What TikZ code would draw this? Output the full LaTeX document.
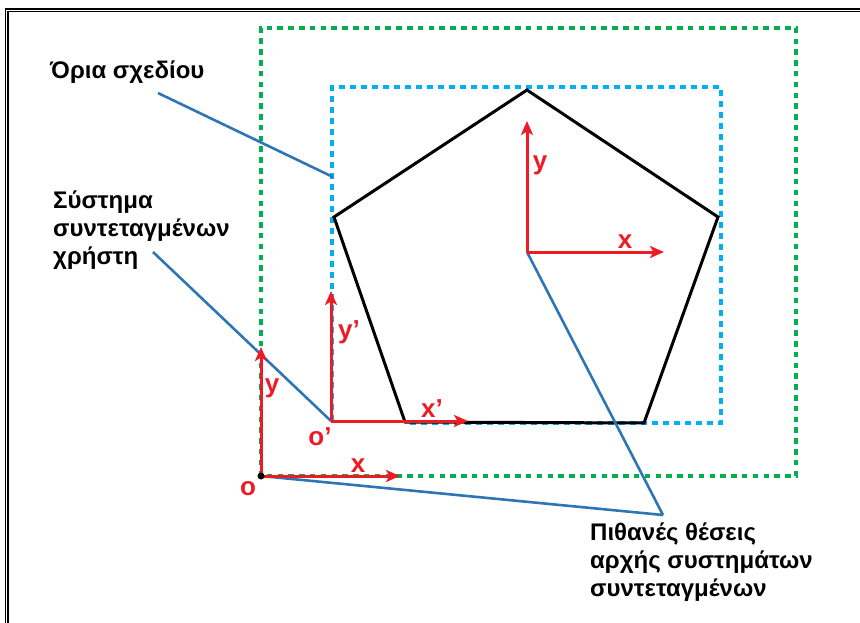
\documentclass[tikz,border=0pt]{standalone}
\usepackage{fontspec}
\setmainfont{Liberation Sans}[BoldFont={Liberation Sans Bold}]
\newfontfamily\capfont{Liberation Sans Bold}
\usetikzlibrary{arrows.meta}
\definecolor{axred}{RGB}{237,28,36}
\definecolor{ptrblue}{RGB}{46,117,182}
\definecolor{limgreen}{RGB}{0,176,80}
\definecolor{limcyan}{RGB}{0,176,240}
\tikzset{
  axis/.style={draw=axred, line width=3pt, -{Stealth[length=14pt,width=12pt,inset=3.5pt]}},
  axlabel/.style={text=axred, font=\capfont\fontsize{26}{28}\selectfont, inner sep=0pt, anchor=base},
  pointer/.style={draw=ptrblue, line width=2.6pt},
  caption/.style={font=\capfont\fontsize{24}{28}\selectfont, align=left, inner sep=0pt, anchor=base west},
  greenlim/.style={draw=limgreen, line width=3.2pt, dash pattern=on 5.5pt off 5.3pt},
  cyanlim/.style={draw=limcyan, line width=3.2pt, dash pattern=on 6pt off 5pt},
  pentaline/.style={draw=black, line width=3pt, line join=miter},
}
\begin{document}
\begin{tikzpicture}[x=1pt,y=-1pt]
\useasboundingbox (0,0) rectangle (860,623);
\begin{scope}
\clip (0,0) rectangle (860,623);
\draw[black, line width=1.5pt, double=white, double distance=1pt] (6.5,10.5) rectangle (880,650);
\end{scope}
% limits
\draw[greenlim] (261,476) -- (261,28) -- (796,28) -- (796,476) -- cycle;
\draw[cyanlim] (332,421) -- (332,87) -- (721,87) -- (721,423) -- (405,423);
% pentagon
\coordinate (pt) at (527,90);
\coordinate (pr) at (718,217);
\coordinate (pbr) at (644,423);
\coordinate (pbl) at (405,422);
\coordinate (pl) at (334,217);
\draw[pentaline] (pt) -- (pr) -- (pbr) -- (pbl) -- (pl) -- cycle;
% origins
\coordinate (o) at (261,476);
\coordinate (o1) at (331,421);
\coordinate (o2) at (527,252);
\coordinate (ox) at (400,476);
\coordinate (oy) at (261,347);
\coordinate (o1x) at (468,421);
\coordinate (o1y) at (331,291);
\coordinate (o2x) at (664,252);
\coordinate (o2y) at (527,121);
% pointers
\coordinate (p1a) at (158,93);
\coordinate (p1b) at (333,177);
\coordinate (p2a) at (153,252);
\coordinate (tip) at (663,515);
\draw[pointer] (p1a) -- (p1b);
\draw[pointer] (p2a) -- (o1);
\draw[pointer] (o) -- (tip);
\draw[pointer] (o2) -- (tip);
% axes
\draw[axis] (o) -- (ox);
\draw[axis] (o) -- (oy);
\draw[axis] (o1) -- (o1x);
\draw[axis] (o1) -- (o1y);
\draw[axis] (o2) -- (o2x);
\draw[axis] (o2) -- (o2y);
\fill[black] (o) circle (3.5pt);
% axis labels
\node[axlabel] (lx) at (358,472) {x};
\node[axlabel] (ly) at (272,392) {y};
\node[axlabel] (lo) at (248,495) {o};
\node[axlabel] (lx1) at (432,417) {x’};
\node[axlabel] (ly1) at (349,338) {y’};
\node[axlabel] (lo1) at (320,445) {o’};
\node[axlabel] (lx2) at (625,248) {x};
\node[axlabel] (ly2) at (540,170) {y};
% captions
\node[caption] (c1) at (50,79) {Όρια σχεδίου};
\node[caption] (c2) at (53,264) {Σύστημα\\συντεταγμένων\\χρήστη};
\node[caption] (c3) at (590,596) {Πιθανές θέσεις\\αρχής συστημάτων\\συντεταγμένων};
\end{tikzpicture}
\end{document}
